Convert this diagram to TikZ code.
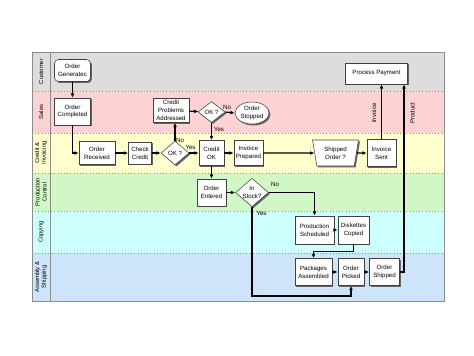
\documentclass[tikz,border=0pt]{standalone}
\usepackage{fontspec}
\setmainfont{Liberation Sans}
\usetikzlibrary{shapes.geometric,arrows.meta,shadows}
\definecolor{lanegray}{RGB}{221,221,221}
\definecolor{lanepink}{RGB}{252,210,210}
\definecolor{laneyellow}{RGB}{255,255,206}
\definecolor{lanegreen}{RGB}{210,247,198}
\definecolor{lanecyan}{RGB}{206,255,255}
\definecolor{laneblue}{RGB}{206,228,250}
\begin{document}
\begin{tikzpicture}[x=0.75pt,y=-0.75pt,
  font=\fontsize{4.6}{5.8}\selectfont,
  sz/.style 2 args={minimum width=#1*0.75pt, minimum height=#2*0.75pt},
  shad/.style={drop shadow={shadow xshift=1.1pt, shadow yshift=-1.1pt, fill=black!60, opacity=1}},
  box/.style={draw=black!75, line width=0.4pt, fill=white, align=center, inner sep=0.5pt, shad},
  rbox/.style={box, rounded corners=3pt},
  dia/.style={box, shape=diamond, inner sep=0pt, aspect=1.15},
  ell/.style={box, shape=ellipse, inner sep=0pt},
  trap/.style={box, shape=trapezium, trapezium left angle=78, trapezium right angle=78, shape border rotate=180, trapezium stretches=true, inner sep=0pt},
  flow/.style={line width=0.9pt, -{Latex[length=3.2pt,width=2.8pt]}},
  lbl/.style={inner sep=0pt, font=\fontsize{4.6}{5.8}\selectfont},
  lanelbl/.style={rotate=90, align=center, inner sep=0pt, font=\fontsize{4.4}{5.2}\selectfont},
  divider/.style={draw=black!45, line width=0.4pt, dotted}
]
\useasboundingbox (0,0) rectangle (474,355);
% lanes
\fill[lanegray]   (32,52)  rectangle (444,91);
\fill[lanepink]   (32,91)  rectangle (444,133);
\fill[laneyellow] (32,133) rectangle (444,173);
\fill[lanegreen]  (32,173) rectangle (444,211);
\fill[lanecyan]   (32,211) rectangle (444,253);
\fill[laneblue]   (32,253) rectangle (444,301);
\foreach \yy in {91,133,173,211,253} \draw[divider] (32,\yy) -- (444,\yy);
\draw[black!45, line width=0.4pt] (50,52) -- (50,301);
\draw[black!45, line width=0.5pt] (32,52) rectangle (444,301);
\node[lanelbl] (lc) at (41,71.5) {Customer};
\node[lanelbl] (ls) at (41,112) {Sales};
\node[lanelbl] (li) at (41,153) {Credit \&\\Invoicing};
\node[lanelbl] (lp) at (41,192) {Production\\Control};
\node[lanelbl] (lo) at (41,232) {Copying};
\node[lanelbl] (la) at (41,277) {Assembly \&\\Shipping};
% nodes
\node[rbox, sz={36}{22}] (gen) at (72.5,70.5) {Order\\Generatec};
\node[box, sz={36}{27}] (comp) at (72.5,111.5) {Order\\Completed};
\node[box, sz={36}{23}] (recv) at (97,153) {Order\\Received};
\node[box, sz={23}{22}] (check) at (140,153) {Check\\Credit};
\node[dia, sz={28}{24}] (ok1) at (175,153) {OK ?};
\node[box, sz={36}{24}] (cpa) at (171,110.5) {Credit\\Problems\\Addressed};
\node[dia, sz={27}{21}] (ok2) at (211.5,112) {OK ?};
\node[ell, sz={34}{22}] (stop) at (252,113) {Order\\Stopped};
\node[box, sz={25}{25}] (credok) at (211.5,153) {Credit\\OK};
\node[box, sz={29}{25}] (invprep) at (248.5,153) {Invoice\\Prepared};
\node[trap, sz={46}{26}] (shipped) at (335.5,153) {Shipped\\Order ?};
\node[box, sz={29}{27}] (invsent) at (381.5,153) {Invoice\\Sent};
\node[box, sz={62}{21}] (pay) at (376.5,73.5) {Process Payment};
\node[box, sz={29}{27}] (entered) at (211.5,192.5) {Order\\Entered};
\node[dia, sz={33}{28}] (instock) at (252,192.5) {In\\Stock?};
\node[box, sz={39}{28}] (prodsch) at (314.5,230) {Production\\Scheduled};
\node[box, sz={31}{28}] (disk) at (353.5,230) {Diskettes\\Copied};
\node[box, sz={37}{27}] (pack) at (313.5,272) {Packages\\Assembled};
\node[box, sz={26}{27}] (picked) at (351,272) {Order\\Picked};
\node[box, sz={30}{27}] (shippedo) at (384.5,272) {Order\\Shipped};
% helper coordinates
\coordinate (prx) at (404,0);
\coordinate (yb) at (0,296);
\coordinate (dm) at (0,251.5);
% connectors
\draw[flow] (gen.south) -- (comp.north);
\draw[flow] (comp.south) |- (recv.west);
\draw[flow] (recv) -- (check);
\draw[flow] (check) -- (ok1);
\draw[flow] (ok1.north) -- (ok1.north |- cpa.south);
\draw[flow] (ok1) -- (credok);
\draw[flow] (cpa) -- (ok2);
\draw[flow] (ok2.east) -- (stop.west);
\draw[flow] (ok2.south) -- (credok.north);
\draw[flow] (credok) -- (invprep);
\draw[flow] (invprep.east) -- (shipped.west);
\draw[flow] (shipped.east) -- (invsent.west);
\draw[flow] (invsent.north) -- (invsent.north |- pay.south);
\draw[flow] (shippedo.east) -| (prx |- pay.south);
\draw[flow] (credok.south) -- (entered.north);
\draw[flow] (entered) -- (instock);
\draw[flow] (instock.east) -| (prodsch.north);
\draw[flow] (instock.south) -- (instock.south |- yb) -| (picked.south);
\draw[flow] (prodsch) -- (disk);
\draw[flow] (disk.south) -- (disk.south |- dm) -| (pack.north);
\draw[flow] (pack) -- (picked);
\draw[flow] (picked) -- (shippedo);
% labels
\node[lbl] (n1) at (180,140.5) {No};
\node[lbl] (y1) at (190.5,147.5) {Yes};
\node[lbl] (n2) at (227,107) {No};
\node[lbl] (y2) at (219,129.5) {Yes};
\node[lbl] (n3) at (275,184) {No};
\node[lbl] (y3) at (261.5,213) {Yes};
\node[lbl, rotate=90] (inv) at (374,113) {Invoice};
\node[lbl, rotate=90] (prod) at (412.5,113) {Product};
\end{tikzpicture}
\end{document}
